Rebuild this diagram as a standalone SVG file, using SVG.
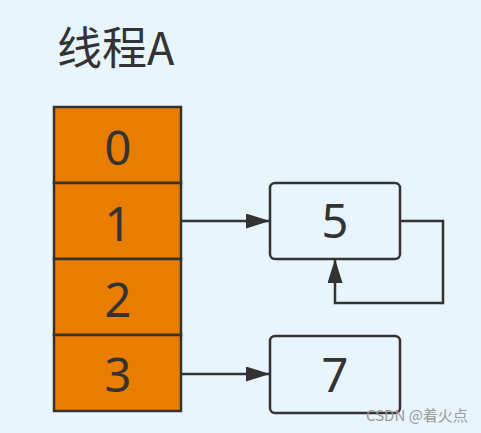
<svg xmlns="http://www.w3.org/2000/svg" width="481" height="433" viewBox="0 0 481 433">
<defs>
<style>
.cell{fill:#E87D00;stroke:#333;stroke-width:2.5}
.box{fill:#E8F5FC;stroke:#333;stroke-width:2.5}
.num{font-family:"Noto Sans","Liberation Sans",sans-serif;font-size:47px;fill:#333;text-anchor:middle}
.conn{fill:none;stroke:#333;stroke-width:2.5}
</style>
<marker id="ah2" markerWidth="24" markerHeight="15" refX="24" refY="7.5" orient="auto" markerUnits="userSpaceOnUse" viewBox="0 0 24 15">
<path d="M0,0 L24,7.5 L0,15 Z" fill="#333"/>
</marker>
</defs>
<rect x="0" y="0" width="481" height="433" fill="#E8F5FC"/>
<text x="57" y="65" font-family="'Noto Sans CJK SC','Noto Sans',sans-serif" font-size="45" fill="#333">线程A</text>
<g id="cell0"><rect class="cell" x="54" y="107" width="127" height="76"/><text class="num" x="118" y="165">0</text></g>
<g id="cell1"><rect class="cell" x="54" y="183" width="127" height="76"/><text class="num" x="118" y="241">1</text></g>
<g id="cell2"><rect class="cell" x="54" y="259" width="127" height="76"/><text class="num" x="118" y="317">2</text></g>
<g id="cell3"><rect class="cell" x="54" y="335" width="127" height="76"/><text class="num" x="118" y="392">3</text></g>
<g id="node5"><rect class="box" x="270" y="183" width="130" height="76" rx="5"/><text class="num" x="335" y="238">5</text></g>
<g id="node7"><rect class="box" x="270" y="336" width="130" height="77" rx="5"/><text class="num" x="335" y="392">7</text></g>
<g id="connectors">
<path class="conn" d="M182,221 L270,221" marker-end="url(#ah2)"/>
<path class="conn" d="M400,221 L443,221 L443,303 L335,303 L335,259" marker-end="url(#ah2)"/>
<path class="conn" d="M182,374 L270,374" marker-end="url(#ah2)"/>
</g>
<text x="366" y="421" font-family="'Noto Sans CJK SC','Noto Sans',sans-serif" font-size="15" fill="#999">CSDN @着火点</text>
</svg>
